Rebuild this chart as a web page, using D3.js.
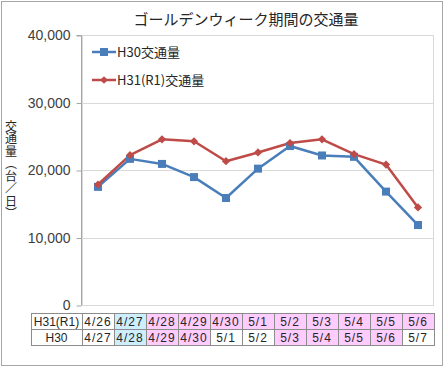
<!DOCTYPE html>
<html><head><meta charset="utf-8">
<script src="https://cdn.jsdelivr.net/npm/d3@7"></script>
<style>html,body{margin:0;padding:0;background:#fff;}svg{display:block;}</style>
</head><body>
<svg id="c" width="445" height="367"></svg>
<script>
const title = "ゴールデンウィーク期間の交通量";
const yLabel = "交通量（台／日）";
const seriesNames = ["H30交通量", "H31(R1)交通量"];
const h30Values = [17500, 21650, 20900, 18950, 15850, 20200, 23550, 22150, 21950, 16800, 11850];
const h31Values = [17850, 22200, 24550, 24250, 21300, 22600, 24000, 24550, 22350, 20800, 14450];
const rowNames = ["H31(R1)", "H30"];
const h31Dates = ["4/26","4/27","4/28","4/29","4/30","5/1","5/2","5/3","5/4","5/5","5/6"];
const h30Dates = ["4/27","4/28","4/29","4/30","5/1","5/2","5/3","5/4","5/5","5/6","5/7"];
// day type: w = weekday, s = saturday (blue), h = holiday (pink)
const h31Types = ["w","s","h","h","h","h","h","h","h","h","h"];
const h30Types = ["w","s","h","h","w","w","h","h","h","h","w"];
const yTicks = [0, 10000, 20000, 30000, 40000];

const svg = d3.select("#c");
const jp = "'Noto Sans CJK JP', 'Liberation Sans', sans-serif";
const num = "'Liberation Sans', Arial, sans-serif";
const blue = "#4a7ebb", red = "#be4b48";
const fillFor = {w: "#ffffff", s: "#cdeefc", h: "#ffccff"};

// outer border
svg.append("rect").attr("x", 1.5).attr("y", 1.5).attr("width", 441).attr("height", 364)
  .attr("fill", "#fff").attr("stroke", "#a6a6a6").attr("stroke-width", 1);

const L = 82, R = 434, T = 35, B = 305;
const x = d3.scaleBand().domain(d3.range(11)).range([L, R]);
const y = d3.scaleLinear().domain([0, 40000]).range([B, T]);

// plot area border
svg.append("rect").attr("x", L + 0.5).attr("y", T + 0.5).attr("width", R - L - 1).attr("height", B - T)
  .attr("fill", "none").attr("stroke", "#d9d9d9");

// gridlines
svg.append("g").selectAll("line").data(yTicks.filter(d => d > 0)).join("line")
  .attr("x1", L).attr("x2", R).attr("y1", d => Math.round(y(d)) + 0.5).attr("y2", d => Math.round(y(d)) + 0.5)
  .attr("stroke", "#d9d9d9");

// y axis
const yAxis = d3.axisLeft(y).tickValues(yTicks).tickSize(5).tickPadding(6).tickFormat(d3.format(","));
const ga = svg.append("g").attr("transform", `translate(${L - 0.5},0.5)`).call(yAxis);
ga.select(".domain").attr("stroke", "#a6a6a6").attr("d", `M-5,${T}H0V${B}`);
ga.selectAll(".tick line").attr("stroke", "#a6a6a6");
ga.selectAll(".tick text").attr("font-family", num).attr("font-size", 14).attr("fill", "#404040");

// y label (vertical writing)
svg.append("text").attr("x", 11).attr("y", 170).attr("font-family", jp).attr("font-size", 12)
  .attr("fill", "#262626").attr("text-anchor", "middle")
  .style("writing-mode", "vertical-rl").style("text-orientation", "mixed")
  .style("letter-spacing", "0.5px").text(yLabel);

// title
svg.append("text").attr("x", 246).attr("y", 25).attr("text-anchor", "middle").attr("font-family", jp)
  .attr("font-size", 15).attr("fill", "#262626").text(title);

// lines
const line = d3.line().x((d, i) => x(i) + x.bandwidth() / 2).y(d => y(d));
svg.append("path").datum(h30Values).attr("d", line).attr("fill", "none").attr("stroke", blue).attr("stroke-width", 2.5).attr("stroke-linejoin", "round");
svg.append("path").datum(h31Values).attr("d", line).attr("fill", "none").attr("stroke", red).attr("stroke-width", 2.5).attr("stroke-linejoin", "round");
svg.append("g").selectAll("rect").data(h30Values).join("rect")
  .attr("x", (d, i) => x(i) + x.bandwidth() / 2 - 4).attr("y", d => y(d) - 4)
  .attr("width", 8).attr("height", 8).attr("fill", blue);
svg.append("g").selectAll("path").data(h31Values).join("path")
  .attr("d", d3.symbol().type(d3.symbolSquare).size(34))
  .attr("transform", (d, i) => `translate(${x(i) + x.bandwidth() / 2},${y(d)}) rotate(45)`)
  .attr("fill", red);

// legend
const lg = svg.append("g");
[[blue, 52, "sq"], [red, 80, "di"]].forEach(([c, ly, m], k) => {
  lg.append("line").attr("x1", 92).attr("x2", 116).attr("y1", ly).attr("y2", ly).attr("stroke", c).attr("stroke-width", 2.5);
  if (m === "sq") lg.append("rect").attr("x", 100).attr("y", ly - 4).attr("width", 8).attr("height", 8).attr("fill", c);
  else lg.append("path").attr("d", d3.symbol().type(d3.symbolSquare).size(30)).attr("transform", `translate(104,${ly}) rotate(45)`).attr("fill", c);
  lg.append("text").attr("x", 117).attr("y", ly + 5).attr("font-family", jp).attr("font-size", 13).attr("fill", "#262626").text(seriesNames[k]);
});

// data table
const rowTop = [313, 329], rowH = 16, hdrL = 31;
const rows = [{name: rowNames[0], dates: h31Dates, types: h31Types}, {name: rowNames[1], dates: h30Dates, types: h30Types}];
const tg = svg.append("g");
rows.forEach((r, ri) => {
  const ty = rowTop[ri];
  tg.append("rect").attr("x", hdrL + 0.5).attr("y", ty + 0.5).attr("width", L - hdrL).attr("height", rowH)
    .attr("fill", "#fff").attr("stroke", "#8c8c8c");
  tg.append("text").attr("x", (hdrL + L) / 2).attr("y", ty + 12.5).attr("text-anchor", "middle")
    .attr("font-family", num).attr("font-size", 12).attr("fill", "#262626").text(r.name);
  r.dates.forEach((d, i) => {
    tg.append("rect").attr("x", x(i) + 0.5).attr("y", ty + 0.5).attr("width", x.bandwidth()).attr("height", rowH)
      .attr("fill", fillFor[r.types[i]]).attr("stroke", "#8c8c8c");
    tg.append("text").attr("x", x(i) + x.bandwidth() / 2).attr("y", ty + 12.5).attr("text-anchor", "middle")
      .attr("font-family", num).attr("font-size", 12).attr("fill", "#262626").text(d)
      .style("letter-spacing", "1px");
  });
});
</script>
</body></html>
